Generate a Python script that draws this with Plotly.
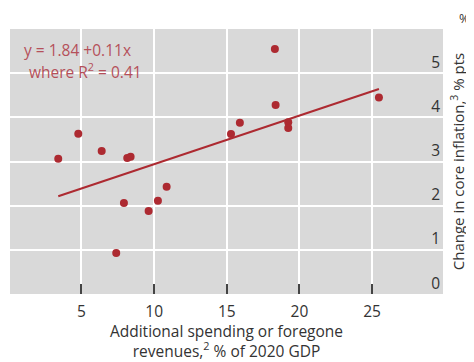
import plotly.graph_objects as go

# Fiscal support vs change in core inflation
spending = [3.40, 4.78, 6.39, 8.15, 8.38, 10.86, 10.26, 9.62, 7.92, 7.39,
            18.31, 18.36, 15.90, 15.29, 19.23, 19.23, 25.47]
inflation = [3.06, 3.63, 3.24, 3.08, 3.11, 2.43, 2.11, 1.88, 2.06, 0.93,
             5.55, 4.28, 3.88, 3.62, 3.89, 3.76, 4.45]

intercept = 1.84
slope = 0.11
r_squared = 0.41

x_ticks = [5, 10, 15, 20, 25]
y_ticks = [0, 1, 2, 3, 4, 5]

POINT = "#ad2a31"
EQ_TEXT = "#b5505a"
TEXT = "#333333"
BG = "#d9d9d9"
FONT = "Open Sans, sans-serif"

fit_x = [min(spending), max(spending)]
fit_y = [intercept + slope * v for v in fit_x]

fig = go.Figure()

fig.add_trace(go.Scatter(
    x=fit_x, y=fit_y,
    mode="lines",
    line=dict(color=POINT, width=2),
    hoverinfo="skip",
))

fig.add_trace(go.Scatter(
    x=spending, y=inflation,
    mode="markers",
    marker=dict(color=POINT, size=8),
))

fig.add_annotation(
    x=0.028, y=0.921, xref="paper", yref="paper",
    text=f"y = {intercept:.2f} +{slope:.2f}x",
    showarrow=False, xanchor="left", yanchor="middle",
    font=dict(size=15.5, color=EQ_TEXT, family=FONT),
)
fig.add_annotation(
    x=0.039, y=0.843, xref="paper", yref="paper",
    text=f"where R<sup>2</sup> = {r_squared:.2f}",
    showarrow=False, xanchor="left", yanchor="middle",
    font=dict(size=15.5, color=EQ_TEXT, family=FONT),
)
fig.add_annotation(
    x=1.049, y=1.042, xref="paper", yref="paper",
    text="%",
    showarrow=False, xanchor="center", yanchor="middle",
    font=dict(size=13, color=TEXT, family=FONT),
)

# page body has an 8px margin, so the figure is shifted by that much
fig.update_layout(
    width=466, height=354,
    paper_bgcolor="white",
    plot_bgcolor=BG,
    showlegend=False,
    font=dict(family=FONT, size=15.5, color=TEXT),
    margin=dict(l=2, r=31, t=21, b=68),
    xaxis=dict(
        range=[0.08, 29.88],
        tickvals=x_ticks,
        ticks="inside", ticklen=10, tickwidth=2, tickcolor="#444444",
        ticklabelstandoff=6,
        showgrid=True, gridcolor="white", gridwidth=1.5,
        zeroline=False, showline=False,
        tickfont=dict(size=15.5, color=TEXT),
        title=dict(
            text="Additional spending or foregone<br>revenues,<sup>2</sup> % of 2020 GDP",
            font=dict(size=15.5, color=TEXT),
            standoff=4,
        ),
        automargin=False,
    ),
    yaxis=dict(
        range=[0, 6],
        side="right",
        tickvals=y_ticks,
        ticks="",
        ticklabelposition="inside top",
        showgrid=True, gridcolor="white", gridwidth=1.5,
        zeroline=False, showline=False,
        tickfont=dict(size=15.5, color=TEXT),
        title=dict(
            text="Change in core inflation,<sup>3</sup> % pts",
            font=dict(size=15, color=TEXT),
            standoff=14,
        ),
        automargin=False,
    ),
)

fig.write_html("out.html")
